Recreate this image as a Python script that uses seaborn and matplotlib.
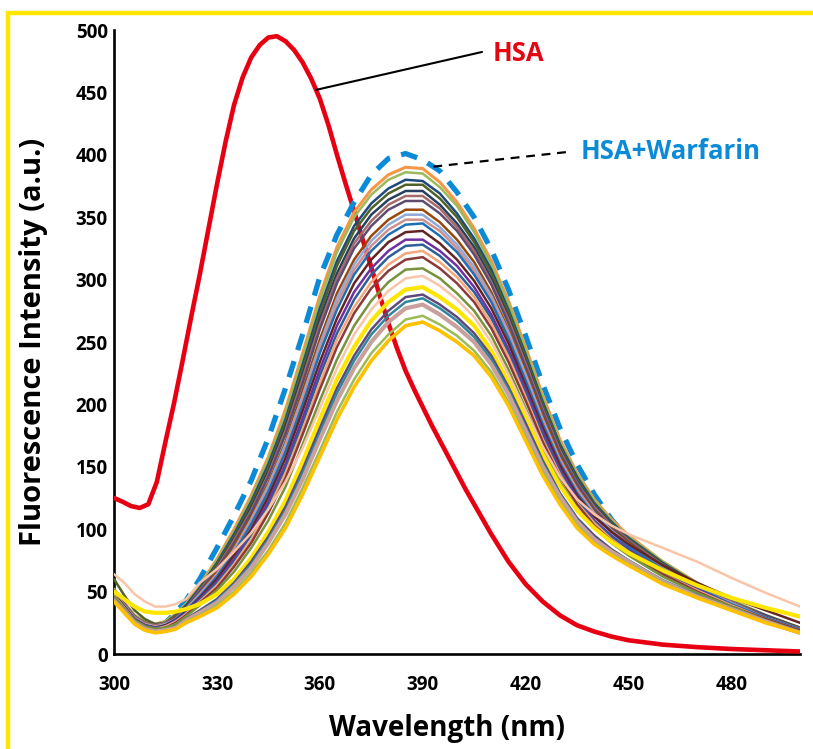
import matplotlib
matplotlib.use("Agg")
import matplotlib.pyplot as plt
import seaborn as sns
import pandas as pd
from matplotlib.patches import Rectangle

# ---------------- data ----------------
wavelength = [300, 303, 306, 309, 312, 315, 318, 321, 325, 330, 335, 340, 345, 350,
              355, 360, 365, 370, 375, 380, 385, 390, 395, 400, 405, 410, 415, 420,
              425, 430, 435, 440, 445, 450, 460, 470, 480, 490, 500]

hsa_wavelength = [300, 302.5, 305, 307.5, 310, 312.5, 315, 317.5, 320, 322.5, 325, 327.5,
                  330, 332.5, 335, 337.5, 340, 342.5, 345, 347.5, 350, 352.5, 355, 357.5,
                  360, 362.5, 365, 367.5, 370, 372.5, 375, 377.5, 380, 382.5, 385, 387.5,
                  390, 392.5, 395, 397.5, 400, 402.5, 405, 407.5, 410, 412.5, 415, 417.5,
                  420, 425, 430, 435, 440, 445, 450, 460, 470, 480, 490, 500]
hsa = [125, 122, 118.5, 117, 120, 138, 170, 201, 235, 270, 304, 340,
       376, 410, 440, 462, 478, 488, 494, 495, 491, 484, 474, 461,
       445, 424, 400, 377, 355, 332, 310, 287, 265, 245, 227, 212,
       198, 184, 171, 158, 145, 132, 120, 108, 96, 85, 74, 65,
       56, 42, 31, 23, 18, 14, 11, 7.5, 5.5, 4, 3, 2]

hsa_warfarin = [48, 38, 29, 24, 22, 25, 33, 43, 60, 85, 111, 139, 173, 213, 256, 302,
                336, 362, 384, 397, 401, 396, 387, 370, 350, 324, 292, 255, 216, 181,
                152, 128, 108, 92, 70, 53, 40, 29, 19]

s391 = [52, 41, 31, 26, 24, 26, 32, 40, 55, 76, 100, 127, 158, 196, 241, 287, 326, 354, 372, 384, 390, 389, 378, 362, 341, 315, 283, 246, 207, 172, 145, 124, 108, 95, 74, 57, 43, 31, 21]
s387 = [52, 41, 31, 26, 24, 26, 32, 40, 54, 75, 98, 125, 156, 193, 238, 283, 322, 350, 368, 380, 386, 385, 374, 359, 338, 312, 281, 244, 205, 170, 144, 123, 107, 94, 74, 57, 43, 31, 21]
s381 = [51, 40, 30, 25, 23, 25, 31, 39, 53, 73, 96, 122, 152, 188, 232, 277, 315, 343, 361, 373, 380, 379, 369, 353, 333, 308, 276, 240, 202, 168, 142, 121, 106, 93, 73, 56, 42, 31, 21]
s377 = [60, 47, 35, 28, 24, 25, 31, 38, 52, 72, 94, 120, 149, 186, 229, 273, 311, 339, 357, 369, 376, 376, 365, 350, 330, 305, 274, 238, 200, 166, 140, 120, 105, 92, 72, 56, 42, 30, 21]
s372 = [51, 40, 30, 25, 23, 25, 30, 38, 51, 70, 92, 117, 146, 182, 224, 268, 305, 333, 352, 364, 371, 371, 360, 345, 326, 301, 270, 235, 197, 164, 138, 119, 104, 91, 71, 55, 42, 30, 20]
s369 = [50, 40, 30, 25, 23, 25, 30, 37, 51, 69, 91, 115, 144, 179, 221, 264, 301, 329, 347, 360, 367, 367, 357, 342, 323, 298, 268, 233, 196, 163, 137, 118, 103, 91, 71, 55, 42, 30, 20]
s365 = [50, 39, 29, 24, 22, 24, 30, 37, 50, 68, 89, 113, 142, 176, 217, 260, 297, 325, 343, 356, 363, 363, 353, 339, 320, 296, 265, 230, 194, 161, 136, 116, 102, 90, 70, 54, 41, 30, 20]
s358 = [49, 39, 29, 24, 22, 24, 29, 36, 48, 66, 86, 110, 137, 170, 211, 252, 289, 316, 335, 348, 356, 356, 346, 332, 314, 290, 260, 226, 190, 158, 133, 114, 100, 89, 69, 54, 41, 29, 20]
s354 = [49, 39, 29, 24, 22, 24, 28, 36, 48, 64, 84, 108, 135, 168, 207, 248, 285, 312, 331, 344, 352, 352, 342, 328, 310, 287, 258, 224, 188, 156, 132, 113, 99, 88, 69, 53, 41, 29, 20]
s350 = [49, 38, 29, 24, 22, 23, 28, 35, 47, 63, 83, 106, 132, 165, 204, 244, 281, 308, 327, 340, 348, 348, 339, 325, 307, 284, 255, 221, 186, 155, 131, 112, 98, 87, 68, 53, 40, 29, 20]
s346 = [48, 38, 28, 23, 21, 23, 28, 35, 46, 62, 81, 104, 130, 162, 200, 241, 276, 304, 323, 336, 344, 345, 335, 322, 304, 282, 253, 219, 184, 153, 129, 111, 98, 86, 68, 53, 40, 29, 20]
s340 = [48, 38, 28, 23, 21, 23, 27, 34, 45, 60, 79, 100, 126, 157, 195, 234, 269, 297, 316, 330, 338, 339, 329, 316, 299, 277, 249, 215, 181, 151, 127, 110, 98, 88, 71, 57, 45, 35, 25]
s334 = [47, 37, 28, 23, 21, 22, 27, 33, 44, 58, 76, 97, 122, 152, 189, 228, 263, 290, 309, 323, 332, 332, 323, 311, 294, 272, 244, 212, 178, 148, 125, 107, 95, 84, 66, 52, 39, 28, 19]
s329 = [47, 37, 28, 23, 21, 22, 26, 33, 43, 57, 74, 95, 119, 149, 185, 223, 257, 284, 304, 318, 327, 328, 319, 306, 290, 269, 241, 209, 175, 146, 123, 106, 94, 83, 65, 51, 39, 28, 19]
s324 = [47, 37, 27, 22, 20, 22, 26, 32, 42, 55, 72, 92, 116, 145, 180, 217, 252, 278, 298, 312, 321, 323, 314, 302, 286, 265, 238, 206, 172, 144, 121, 105, 92, 82, 64, 51, 39, 28, 19]
s319 = [46, 36, 27, 22, 20, 21, 25, 31, 41, 53, 70, 89, 113, 141, 176, 212, 246, 273, 293, 307, 316, 318, 309, 297, 282, 261, 234, 203, 170, 142, 120, 103, 91, 81, 64, 50, 38, 28, 19]
s311 = [46, 36, 27, 22, 20, 21, 24, 30, 39, 51, 66, 85, 107, 134, 168, 203, 236, 263, 283, 298, 308, 309, 301, 289, 275, 255, 228, 197, 165, 138, 116, 101, 89, 79, 62, 49, 38, 27, 18]
s304 = [64, 57, 48, 42, 38, 38, 40, 44, 57, 68, 82, 97, 116, 138, 165, 197, 229, 256, 276, 291, 301, 303, 295, 284, 270, 250, 224, 195, 166, 142, 124, 112, 103, 96, 85, 74, 61, 49, 38]
s296 = [50, 44, 38, 34, 33, 33, 34, 36, 40, 48, 60, 77, 98, 123, 154, 188, 220, 246, 267, 282, 292, 294, 286, 276, 263, 243, 218, 189, 160, 135, 115, 101, 90, 81, 67, 55, 45, 37, 30]
s289 = [44, 34, 25, 20, 18, 19, 22, 28, 35, 44, 57, 74, 94, 118, 148, 181, 213, 239, 260, 275, 286, 288, 280, 270, 257, 239, 214, 185, 155, 129, 109, 95, 84, 75, 59, 47, 36, 26, 18]
s285 = [44, 34, 25, 20, 18, 19, 22, 27, 34, 43, 56, 72, 92, 115, 145, 177, 209, 235, 256, 271, 282, 285, 277, 267, 254, 236, 212, 182, 153, 128, 108, 93, 83, 75, 59, 47, 36, 26, 18]
s281 = [43, 34, 25, 20, 18, 19, 21, 27, 33, 41, 54, 69, 89, 112, 140, 172, 203, 229, 250, 266, 277, 280, 272, 262, 250, 232, 208, 179, 150, 126, 106, 92, 82, 74, 58, 46, 36, 26, 17]
s272 = [42, 33, 24, 19, 17, 18, 20, 26, 31, 39, 50, 65, 83, 105, 133, 163, 194, 220, 241, 256, 268, 271, 264, 255, 243, 226, 202, 174, 146, 122, 103, 89, 80, 72, 57, 45, 35, 25, 17]
s267 = [42, 33, 24, 19, 17, 18, 20, 25, 30, 37, 48, 62, 80, 101, 128, 158, 188, 214, 235, 251, 263, 266, 259, 250, 239, 222, 199, 171, 143, 120, 101, 88, 79, 71, 56, 45, 35, 25, 17]

titration = [s391, s387, s381, s377, s372, s369, s365, s358, s354, s350, s346, s340,
             s334, s329, s324, s319, s311, s304, s296, s289, s285, s281, s272, s267]
titration_colors = ["#F79646", "#9BBB59", "#1F497D", "#4F6228", "#254061", "#A66A6A",
                    "#5F4B6E", "#984807", "#8EA9DB", "#D08F8C", "#1F6FB4", "#632523",
                    "#7030A0", "#2E5E9A", "#F4A77A", "#8B3A3A", "#77933C", "#F9C5A8",
                    "#FFE600", "#5F497A", "#31859C", "#C9A09B", "#9BBB59", "#FFC000"]
titration_widths = [2.2, 1.8, 1.8, 1.8, 1.8, 1.8, 1.8, 1.8, 1.8, 1.8, 1.8, 1.8,
                    1.8, 1.8, 1.8, 1.8, 1.8, 1.8, 3.0, 1.8, 1.8, 3.0, 1.8, 2.6]

x_ticks = [300, 330, 360, 390, 420, 450, 480]
y_ticks = [0, 50, 100, 150, 200, 250, 300, 350, 400, 450, 500]

# ---------------- figure ----------------
sns.set_style("white")
plt.rcParams["font.family"] = ["Open Sans", "DejaVu Sans"]

W, H = 813, 749
fig = plt.figure(figsize=(W / 100, H / 100), dpi=100)
fig.patch.set_facecolor("white")
ax = fig.add_axes([114 / W, 1 - 654 / H, 686 / W, 624 / H])

sns.lineplot(x=hsa_wavelength, y=hsa, color="#E60012", lw=3.3, ax=ax, zorder=2)
ax.lines[-1].set_solid_joinstyle("round")
sns.lineplot(x=wavelength, y=hsa_warfarin, color="#0B8AD8", lw=3.8, ax=ax, zorder=2.5)
ax.lines[-1].set_linestyle((0, (3.2, 2.2)))
ax.lines[-1].set_dash_capstyle("butt")

for i, (vals, col, lw) in enumerate(zip(titration, titration_colors, titration_widths)):
    sns.lineplot(x=wavelength, y=vals, color=col, lw=lw, ax=ax, zorder=3 + i * 0.01)
    ax.lines[-1].set_solid_joinstyle("round")

ax.set_xlim(300, 500)
ax.set_ylim(0, 500)
ax.set_xticks(x_ticks)
ax.set_yticks(y_ticks)
ax.tick_params(axis="both", length=0, labelsize=13.5)
ax.tick_params(axis="x", pad=15)
ax.tick_params(axis="y", pad=4.5)
for lbl in ax.get_xticklabels() + ax.get_yticklabels():
    lbl.set_fontweight("bold")
    lbl.set_color("black")

for side in ["top", "right"]:
    ax.spines[side].set_visible(False)
for side in ["left", "bottom"]:
    ax.spines[side].set_color("black")
    ax.spines[side].set_linewidth(1.9)
    ax.spines[side].set_zorder(1)

ax.set_xlabel("Wavelength (nm)", fontsize=20, fontweight="bold", color="black")
ax.set_ylabel("Fluorescence Intensity (a.u.)", fontsize=21, fontweight="bold", color="black")
ax.xaxis.label.set_va("center")
ax.yaxis.label.set_va("center")
ax.xaxis.set_label_coords(0.486, -0.1186)
ax.yaxis.set_label_coords(-0.118, 0.5)

# annotations
ax.plot([358.9, 407.3], [452, 482.4], color="black", lw=1.5, clip_on=False, zorder=5)
ax.text(410.5, 481, "HSA", color="#E30613", fontsize=18.5, fontweight="bold",
        ha="left", va="center")
ax.plot([393.1, 433.0], [390.5, 402.5], color="black", lw=1.6, clip_on=False, zorder=5,
        linestyle=(0, (4, 3)))
ax.text(435.9, 402.5, "HSA+Warfarin", color="#0B8AD8", fontsize=18.5, fontweight="bold",
        ha="left", va="center")

# yellow frame (top and left edges visible, rest cropped)
fig.patches.append(Rectangle((8 / W, -0.05), 1.2, 1 - 13 / H + 0.05,
                             transform=fig.transFigure, fill=False,
                             edgecolor="#FFE600", linewidth=3.2))

fig.savefig("out.png", dpi=100, facecolor="white")
